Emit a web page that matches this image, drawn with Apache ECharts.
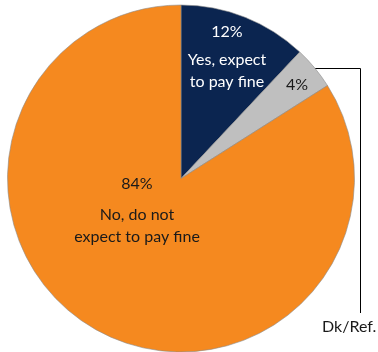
<!DOCTYPE html>
<html>
<head>
<meta charset="utf-8">
<script src="https://cdn.jsdelivr.net/npm/echarts@6/dist/echarts.min.js"></script>
<style>
  html, body { margin: 0; padding: 0; background: #fff; }
  #chart { width: 378px; height: 352px; }
</style>
</head>
<body>
<div id="chart"></div>
<script>
// Survey answers: do respondents expect to pay the fine?
const categories = ['Yes, expect\nto pay fine', 'Dk/Ref.', 'No, do not\nexpect to pay fine'];
const shares = [12, 4, 84];
const sliceColors = ['#0b2550', '#bfbfbf', '#f5891f'];

const FONT = 'Lato, "Open Sans", sans-serif';
const FS = 16;
const CX = 181, CY = 178.5, R = 173.5;

// Label anchor points (pixels) for the in-slice labels
const labelSpots = [[227, 54], [297, 85], [137, 206]];

const total = shares.reduce((a, b) => a + b, 0);
function midAngle(i) {
  let before = 0;
  for (let k = 0; k < i; k++) before += shares[k];
  return (before + shares[i] / 2) / total * Math.PI * 2; // clockwise from 12 o'clock
}

const chart = echarts.init(document.getElementById('chart'), null, { renderer: 'canvas' });

const innerLabels = [
  { formatter: (p) => '{p|' + p.value + '%}\n{t|Yes, expect}\n{t|to pay fine}', color: '#ffffff', pH: 34 },
  { formatter: (p) => '{p|' + p.value + '%}', color: '#1a1a1a', pH: 20 },
  { formatter: (p) => '{p|' + p.value + '%}\n{t|No, do not}\n{t|expect to pay fine}', color: '#1a1a1a', pH: 39 }
];

chart.setOption({
  animation: false,
  series: [
    {
      type: 'pie',
      center: [CX, CY],
      radius: [0, R],
      startAngle: 90,
      clockwise: true,
      silent: true,
      itemStyle: { borderColor: '#8c8c8c', borderWidth: 0.6 },
      data: shares.map((v, i) => ({
        name: categories[i],
        value: v,
        itemStyle: { color: sliceColors[i] },
        label: {
          show: true,
          position: 'inside',
          formatter: innerLabels[i].formatter,
          rich: {
            p: { fontFamily: FONT, fontSize: FS, color: innerLabels[i].color, lineHeight: innerLabels[i].pH, align: 'center' },
            t: { fontFamily: FONT, fontSize: FS, color: innerLabels[i].color, lineHeight: 22, align: 'center' }
          }
        }
      })),
      labelLine: { show: false },
      labelLayout: function (params) {
        const s = labelSpots[params.dataIndex];
        return { x: s[0], y: s[1], align: 'center', verticalAlign: 'middle' };
      }
    },
    {
      // Callout for the small "Dk/Ref." slice
      type: 'pie',
      center: [CX, CY],
      radius: [0, R],
      startAngle: 90,
      clockwise: true,
      silent: true,
      avoidLabelOverlap: false,
      itemStyle: { color: 'rgba(0,0,0,0)' },
      data: shares.map((v, i) => ({
        name: categories[i],
        value: v,
        label: { show: i === 1 },
        labelLine: { show: i === 1 }
      })),
      label: {
        position: 'outside',
        formatter: '{b}',
        fontFamily: FONT,
        fontSize: FS,
        color: '#1a1a1a',
        overflow: 'none',
        width: 80
      },
      labelLine: { lineStyle: { color: '#000000', width: 1 } },
      labelLayout: function (params) {
        const a = midAngle(1);
        const sx = CX + R * Math.sin(a);
        const sy = Math.round(CY - R * Math.cos(a)) + 0.5;
        const elbowX = 360.5, bottomY = 313;
        return {
          x: 322, y: 327, align: 'left', verticalAlign: 'middle',
          labelLinePoints: [[sx, sy], [elbowX, sy], [elbowX, bottomY]]
        };
      }
    }
  ]
});
</script>
</body>
</html>
